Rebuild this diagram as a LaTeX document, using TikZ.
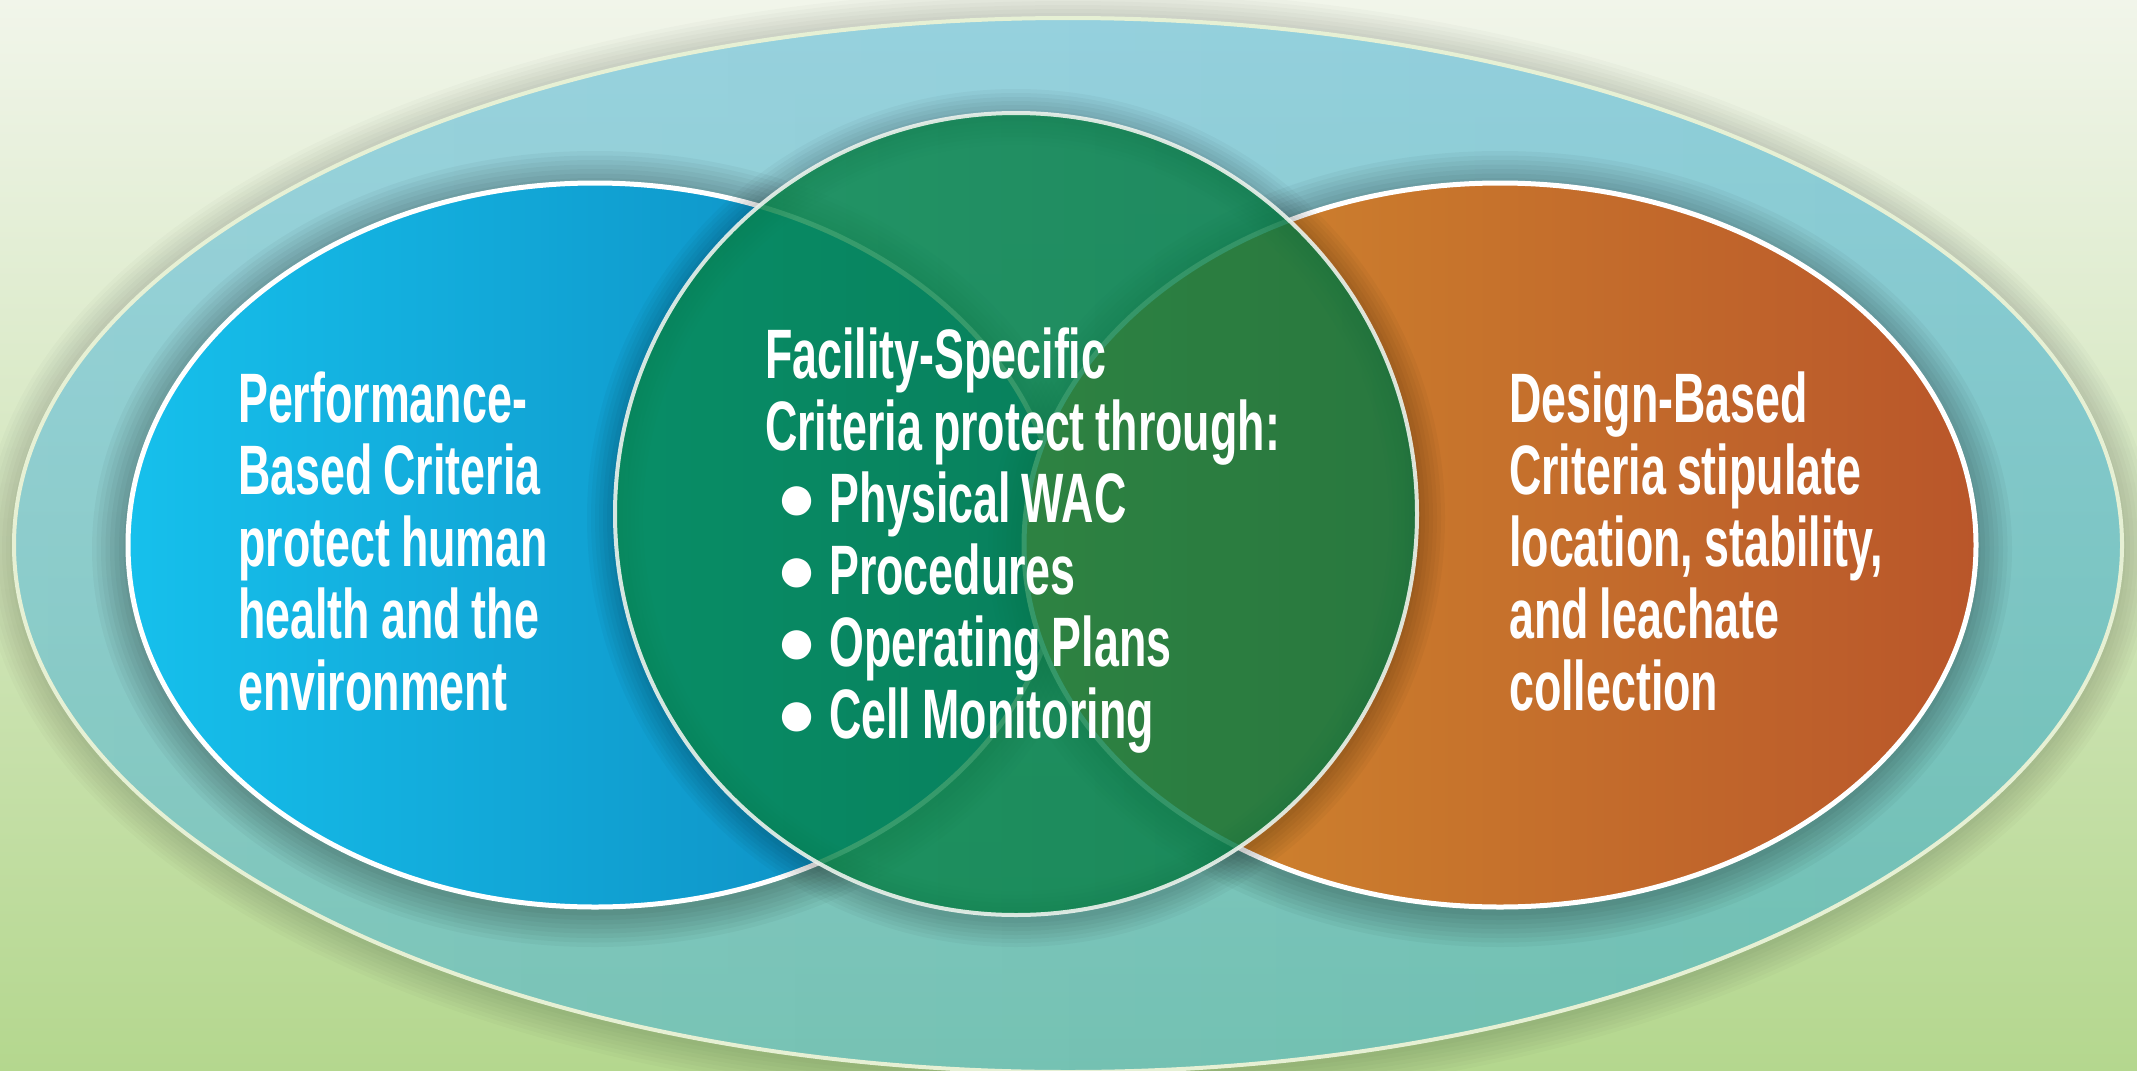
\documentclass[tikz,border=0pt]{standalone}
\usepackage{fontspec}
\usetikzlibrary{fadings}
\newfontfamily\cf{Liberation Sans}[FakeStretch=0.64]
\newfontfamily\bulfont{Liberation Sans}
\newcommand{\bul}{{\bulfont\fontsize{68}{72}\selectfont\raisebox{2pt}{\char"25CF}}}
\newcommand{\tightsp}{\spaceskip=11pt\relax}
\definecolor{bgtop}{RGB}{241,245,234}
\definecolor{bgbot}{RGB}{180,215,142}
\definecolor{outtop}{RGB}{143,206,220}
\definecolor{outbot}{RGB}{108,190,174}
\definecolor{outline}{RGB}{230,240,212}
\definecolor{blueL}{RGB}{22,192,236}
\definecolor{blueR}{RGB}{12,132,186}
\definecolor{oraL}{RGB}{211,141,46}
\definecolor{oraR}{RGB}{185,86,42}
\definecolor{grn}{RGB}{8,138,77}
\definecolor{circline}{RGB}{236,242,236}
\begin{document}
\begin{tikzpicture}[x=1pt,y=-1pt,
  txt/.style={text=white, font=\cf\bfseries\fontsize{70}{72}\selectfont, align=left, text width=700pt, inner sep=0pt, anchor=base west},
  shadowring/.style={line width=#1, black}]
\useasboundingbox (0,0) rectangle (2137,1071);
% background
\fill[top color=bgtop, bottom color=bgbot] (0,0) rectangle (2137,1071);
% outer ellipse
\coordinate (oc) at (1068,545);
\foreach \w in {8,16,...,64} \draw[shadowring=\w pt, draw opacity=0.02] ([yshift=-3pt]oc) ellipse [x radius=1054, y radius=527];
\fill[top color=outtop, bottom color=outbot] (oc) ellipse [x radius=1054, y radius=527];
\fill[white, fill opacity=0.12, path fading=east] (oc) ellipse [x radius=1054, y radius=527];
\draw[outline, line width=4pt] (oc) ellipse [x radius=1054, y radius=527];
% left ellipse
\coordinate (lc) at (595,545);
\foreach \w in {9,18,...,72} \draw[shadowring=\w pt, draw opacity=0.035] ([yshift=-4pt]lc) ellipse [x radius=467, y radius=362];
\fill[left color=blueL, right color=blueR] (lc) ellipse [x radius=467, y radius=362];
\draw[white, line width=5pt] (lc) ellipse [x radius=467, y radius=362];
% right ellipse
\coordinate (rc) at (1500,545);
\foreach \w in {9,18,...,72} \draw[shadowring=\w pt, draw opacity=0.035] ([yshift=-4pt]rc) ellipse [x radius=476, y radius=362];
\fill[left color=oraL, right color=oraR] (rc) ellipse [x radius=476, y radius=362];
\draw[white, line width=5pt] (rc) ellipse [x radius=476, y radius=362];
% centre circle
\coordinate (cc) at (1016,514);
\foreach \w in {8,16,...,56} \draw[shadowring=\w pt, draw opacity=0.03] ([yshift=-4pt]cc) circle [radius=401];
\fill[grn, fill opacity=0.8] (cc) circle [radius=401];
\fill[black, fill opacity=0.1, path fading=west] (cc) circle [radius=401];
\draw[circline, line width=4pt, draw opacity=0.9] (cc) circle [radius=401];
% texts
\node[txt] (ltext) at (238,422) {\tightsp Performance-\\Based Criteria\\protect human\\health and the\\environment};
\node[txt] (rtext) at (1509,422) {\tightsp Design-Based\\Criteria stipulate\\location, stability,\\and leachate\\collection};
\node[txt] (mtext) at (765,378) {\tightsp Facility-Specific\\Criteria protect through:\\
\hspace*{11pt}\makebox[53pt][l]{\bul}Physical WAC\\
\hspace*{11pt}\makebox[53pt][l]{\bul}Procedures\\
\hspace*{11pt}\makebox[53pt][l]{\bul}Operating Plans\\
\hspace*{11pt}\makebox[53pt][l]{\bul}Cell Monitoring};
\end{tikzpicture}
\end{document}
